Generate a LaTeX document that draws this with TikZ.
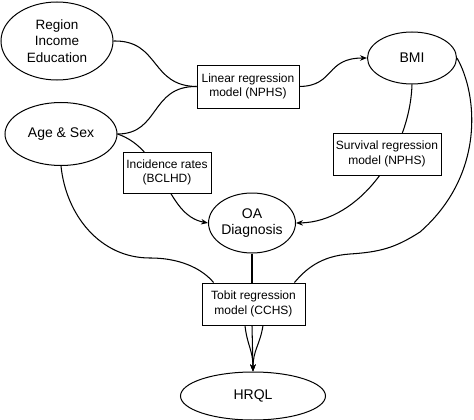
\documentclass[tikz,border=0pt]{standalone}
\usepackage{fontspec}
\setmainfont{Liberation Sans}
\usetikzlibrary{shapes.geometric,arrows.meta,calc}
\pgfdeclarelayer{bg}
\pgfsetlayers{bg,main}
\begin{document}
\begin{tikzpicture}[x=1pt,y=-1pt,
  ell/.style={draw,ellipse,fill=white,line width=1pt,inner sep=0pt,align=center,font=\fontsize{14}{16.5}\selectfont},
  boxn/.style={draw,rectangle,fill=white,line width=0.9pt,inner sep=0pt,align=center,font=\fontsize{12}{14.5}\selectfont},
  conn/.style={line width=1.05pt},
  arr/.style={line width=1.05pt,-{Stealth[length=7pt,width=5.5pt]}}]
\useasboundingbox (0,0) rectangle (474,420);
\node[ell,minimum width=112pt,minimum height=78pt,font=\fontsize{13.5}{16.5}\selectfont] (reg) at (57,41) {Region\\Income\\Education};
\node[ell,minimum width=112pt,minimum height=63pt] (as) at (61,134) {Age \& Sex};
\node[boxn,minimum width=102pt,minimum height=43pt] (lin) at (248,86.5) {Linear regression\\model (NPHS)};
\node[ell,minimum width=89pt,minimum height=52pt] (bmi) at (412,58) {BMI};
\node[boxn,minimum width=108pt,minimum height=42pt] (surv) at (387,154) {Survival regression\\model (NPHS)};
\node[boxn,minimum width=88pt,minimum height=41pt] (inc) at (167,172.5) {Incidence rates\\(BCLHD)};
\node[ell,minimum width=83pt,minimum height=60pt] (oa) at (252,223) {OA\\Diagnosis};
\node[boxn,minimum width=103pt,minimum height=42pt] (tob) at (253.5,304) {Tobit regression\\model (CCHS)};
\node[ell,minimum width=145pt,minimum height=48pt] (hrql) at (253,396) {HRQL};
\begin{pgfonlayer}{bg}
\draw[conn] (reg.east) .. controls (160,40) and (150,86) .. (lin.west);
\draw[conn] (as.east) .. controls (160,134) and (150,86) .. (lin.west);
\draw[arr] (lin.east) .. controls (335,86) and (325,58) .. (bmi.west);
\draw[arr] (as.east) .. controls (165,150) and (165,215) .. (oa.west);
\draw[arr] (bmi.south) .. controls (410,150) and (360,222) .. (oa.east);
\draw[conn] (as.south) .. controls (66,215) and (100,258) .. (150,258) .. controls (185,258) and (205,272) .. ($(tob.north west)+(12,0)$);
\draw[conn] (oa.south) -- (oa.south |- tob.north);
\draw[conn] (bmi.east) .. controls (478,95) and (485,175) .. (420,232) .. controls (395,248) and (380,252) .. (350,254) .. controls (320,256) and (305,270) .. ($(tob.north east)+(-11,0)$);
\draw[arr] ($(tob.south)+(-8.5,0)$) .. controls (247,345) and (253,350) .. (hrql.north);
\draw[arr] (oa.south |- tob.south) -- (hrql.north);
\draw[arr] ($(tob.south)+(9.5,0)$) .. controls (260,345) and (253,350) .. (hrql.north);
\end{pgfonlayer}
\end{tikzpicture}
\end{document}
